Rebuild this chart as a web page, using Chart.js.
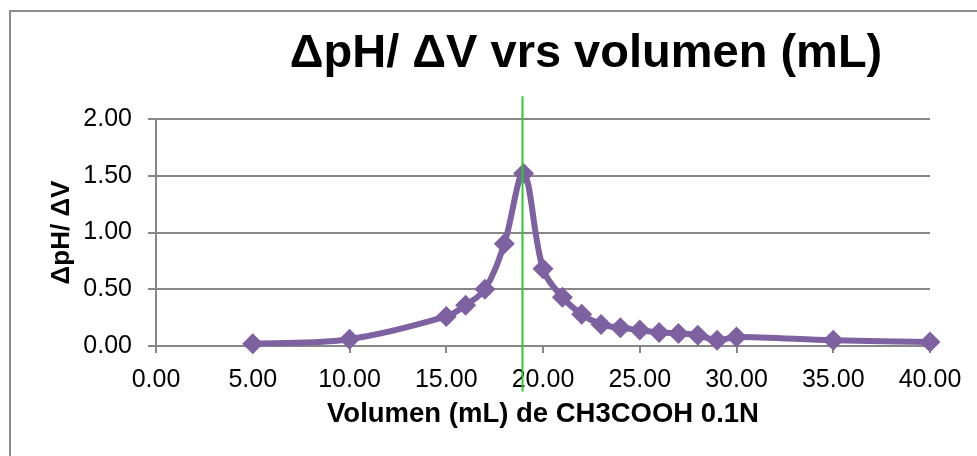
<!DOCTYPE html>
<html>
<head>
<meta charset="utf-8">
<script src="https://cdn.jsdelivr.net/npm/chart.js@4"></script>
<style>
  html, body { margin: 0; padding: 0; background: #fff; }
  #wrap { width: 977px; height: 456px; }
</style>
</head>
<body>
<div id="wrap"><canvas id="phChart" width="977" height="456"></canvas></div>
<script>
// volumen de CH3COOH (mL) y dpH/dV
var volumes = [5, 10, 15, 16, 17, 18, 19, 20, 21, 22, 23, 24, 25, 26, 27, 28, 29, 30, 35, 40];
var dphdv = [0.02, 0.06, 0.26, 0.36, 0.50, 0.90, 1.52, 0.68, 0.43, 0.28, 0.19, 0.16, 0.14, 0.12, 0.11, 0.095, 0.05, 0.08, 0.05, 0.035];
var xTicks = [0, 5, 10, 15, 20, 25, 30, 35, 40];
var yTicks = [0, 0.5, 1, 1.5, 2];
// punto de equivalencia (linea verde)
var equivVolume = 18.93;
var equivSpan = [2.2, -0.4];

var titleText = '\u0394pH/ \u0394V vrs volumen (mL)';
var fontFamily = '"Liberation Sans", Arial, sans-serif';
var gridColor = '#878787';

var points = volumes.map(function (v, i) { return { x: v, y: dphdv[i] }; });

// marco gris y titulo
var framePlugin = {
    id: 'frame',
    beforeDraw: function (chart) {
        var ctx = chart.ctx;
        ctx.save();
        ctx.fillStyle = '#fff';
        ctx.fillRect(0, 0, chart.width, chart.height);
        ctx.strokeStyle = '#8c8c8c';
        ctx.lineWidth = 2;
        ctx.strokeRect(10, 11, chart.width + 20, chart.height + 20);
        ctx.fillStyle = '#000';
        ctx.font = 'bold 47px ' + fontFamily;
        ctx.textAlign = 'center';
        ctx.textBaseline = 'alphabetic';
        ctx.fillText(titleText, 586, 67);
        ctx.restore();
    }
};

var equivPlugin = {
    id: 'equiv',
    afterDatasetsDraw: function (chart) {
        var ctx = chart.ctx;
        var xs = chart.scales.x, ys = chart.scales.y;
        var px = Math.round(xs.getPixelForValue(equivVolume)) + 0.5;
        ctx.save();
        ctx.strokeStyle = '#2ecc2e';
        ctx.lineWidth = 2;
        ctx.beginPath();
        ctx.moveTo(px, ys.getPixelForValue(equivSpan[0]));
        ctx.lineTo(px, ys.getPixelForValue(equivSpan[1]));
        ctx.stroke();
        ctx.restore();
    }
};

var ctx = document.getElementById('phChart').getContext('2d');
var chart = new Chart(ctx, {
    type: 'line',
    data: {
        datasets: [{
            data: points,
            borderColor: '#7e61a1',
            backgroundColor: '#7e61a1',
            borderWidth: 6,
            tension: 0.35,
            pointStyle: 'rectRot',
            pointRadius: 10.5,
            pointHoverRadius: 10.5,
            pointBorderWidth: 0,
            clip: false
        }]
    },
    options: {
        responsive: false,
        animation: false,
        layout: { padding: { left: 40, top: 119, right: 47, bottom: 25 } },
        plugins: {
            legend: { display: false },
            tooltip: { enabled: false },
            title: { display: false }
        },
        scales: {
            x: {
                type: 'linear',
                min: 0,
                max: 40,
                afterBuildTicks: function (scale) {
                    scale.ticks = xTicks.map(function (v) { return { value: v }; });
                },
                afterFit: function (scale) { scale.height = 85; },
                border: { color: gridColor, width: 2 },
                grid: { drawOnChartArea: false, drawTicks: true, tickLength: 7, color: gridColor, lineWidth: 2 },
                ticks: {
                    color: '#000',
                    padding: 12,
                    maxRotation: 0,
                    font: { family: fontFamily, size: 25 },
                    callback: function (v) { return Number(v).toFixed(2); }
                },
                title: {
                    display: true,
                    text: 'Volumen (mL) de CH3COOH 0.1N',
                    color: '#000',
                    padding: { top: 7, bottom: 0 },
                    font: { family: fontFamily, size: 27.5, weight: 'bold' }
                }
            },
            y: {
                min: 0,
                max: 2,
                afterBuildTicks: function (scale) {
                    scale.ticks = yTicks.map(function (v) { return { value: v }; });
                },
                afterFit: function (scale) { scale.width = 116; },
                border: { color: gridColor, width: 2 },
                grid: { color: gridColor, lineWidth: 2, tickLength: 8 },
                ticks: {
                    color: '#000',
                    padding: 16,
                    font: { family: fontFamily, size: 25 },
                    callback: function (v) { return Number(v).toFixed(2); }
                },
                title: {
                    display: true,
                    text: '\u0394pH/ \u0394V',
                    color: '#000',
                    padding: { top: 6, bottom: 0 },
                    font: { family: fontFamily, size: 26, weight: 'bold' }
                }
            }
        }
    },
    plugins: [framePlugin, equivPlugin]
});
</script>
</body>
</html>
